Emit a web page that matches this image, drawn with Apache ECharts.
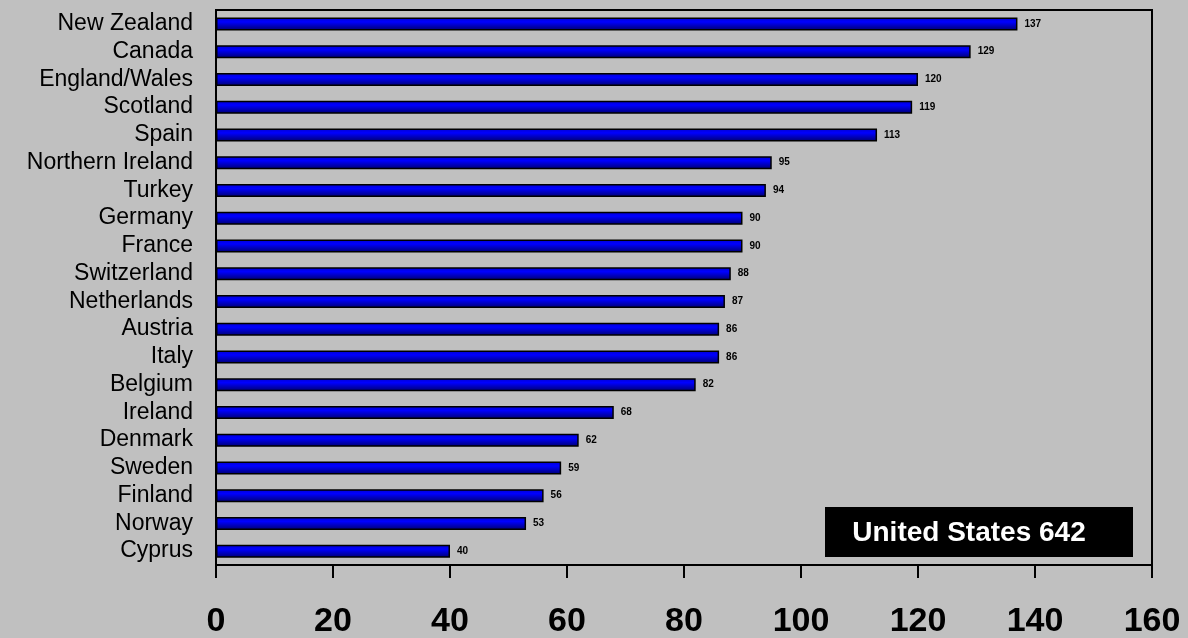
<!DOCTYPE html>
<html>
<head>
<meta charset="utf-8">
<script src="https://cdn.jsdelivr.net/npm/echarts@6/dist/echarts.min.js"></script>
<style>
html, body { margin: 0; padding: 0; background: #c0c0c0; }
#chart { width: 1188px; height: 638px; }
</style>
</head>
<body>
<div id="chart"></div>
<script>
const countries = [
    "New Zealand", "Canada", "England/Wales", "Scotland", "Spain",
    "Northern Ireland", "Turkey", "Germany", "France", "Switzerland",
    "Netherlands", "Austria", "Italy", "Belgium", "Ireland",
    "Denmark", "Sweden", "Finland", "Norway", "Cyprus",
];
const rates = [137, 129, 120, 119, 113, 95, 94, 90, 90, 88, 87, 86, 86, 82, 68, 62, 59, 56, 53, 40];
const xTicks = [0, 20, 40, 60, 80, 100, 120, 140, 160];
const note = "United States 642";

let chart = echarts.init(document.getElementById("chart"));
chart.setOption({
    backgroundColor: "#c0c0c0",
    animation: false,
    grid: {
        left: 216,
        right: 36,
        top: 10,
        bottom: 73,
        outerBoundsMode: "none",
        containLabel: false,
        show: true,
        borderColor: "#000",
        borderWidth: 2,
        backgroundColor: "transparent",
    },
    xAxis: {
        type: "value",
        min: xTicks[0],
        max: xTicks[xTicks.length - 1],
        interval: 20,
        splitLine: { show: false },
        axisLine: { show: true, lineStyle: { color: "#000", width: 2 } },
        axisTick: { show: true, inside: false, length: 13, lineStyle: { color: "#000", width: 2 } },
        axisLabel: {
            color: "#000",
            fontFamily: "Liberation Sans, Arial, sans-serif",
            fontWeight: "bold",
            fontSize: 34,
            lineHeight: 34,
            margin: 40,
        },
    },
    yAxis: {
        type: "category",
        inverse: true,
        data: countries,
        axisLine: { show: true, lineStyle: { color: "#000", width: 2 } },
        axisTick: { show: false },
        axisLabel: {
            interval: 0,
            color: "#000",
            fontFamily: "Liberation Sans, Arial, sans-serif",
            fontSize: 23,
            lineHeight: 24,
            margin: 23,
        },
    },
    series: [
        {
            type: "bar",
            data: rates,
            barWidth: 13,
            itemStyle: {
                color: new echarts.graphic.LinearGradient(0, 0, 0, 1, [
                    { offset: 0, color: "#0000d0" },
                    { offset: 0.35, color: "#0000ff" },
                    { offset: 1, color: "#000070" },
                ]),
                borderColor: "#000",
                borderWidth: 1.5,
            },
            label: {
                show: true,
                position: "right",
                distance: 7,
                color: "#000",
                fontFamily: "Liberation Sans, Arial, sans-serif",
                fontWeight: "bold",
                fontSize: 10,
            },
        },
    ],
    graphic: [
        {
            type: "group",
            left: 825,
            top: 507,
            children: [
                {
                    type: "rect",
                    shape: { x: 0, y: 0, width: 308, height: 50 },
                    style: { fill: "#000" },
                },
                {
                    type: "text",
                    x: 144,
                    y: 26,
                    style: {
                        text: note,
                        fill: "#fff",
                        font: "bold 28px 'Liberation Sans', Arial, sans-serif",
                        align: "center",
                        verticalAlign: "middle",
                    },
                },
            ],
        },
    ],
});
</script>
</body>
</html>
